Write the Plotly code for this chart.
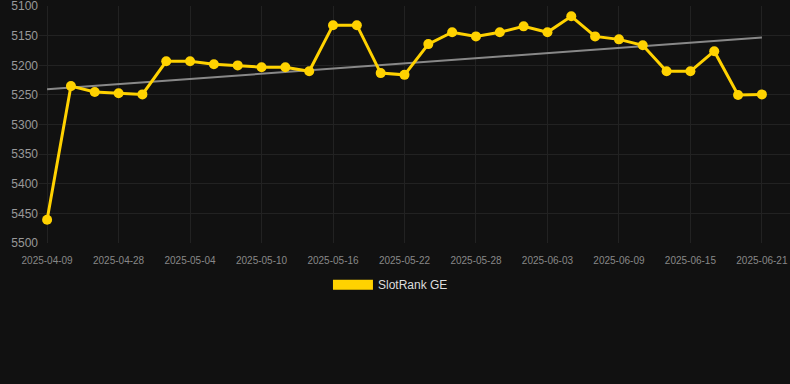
import numpy as np
import plotly.graph_objects as go

dates = ["2025-04-09", "2025-04-24", "2025-04-26", "2025-04-28", "2025-04-30", "2025-05-02",
         "2025-05-04", "2025-05-06", "2025-05-08", "2025-05-10", "2025-05-12", "2025-05-14",
         "2025-05-16", "2025-05-18", "2025-05-20", "2025-05-22", "2025-05-24", "2025-05-26",
         "2025-05-28", "2025-05-30", "2025-06-01", "2025-06-03", "2025-06-05", "2025-06-07",
         "2025-06-09", "2025-06-11", "2025-06-13", "2025-06-15", "2025-06-17", "2025-06-19",
         "2025-06-21"]
rank = [5461, 5235, 5245, 5247, 5249, 5193, 5193, 5198, 5200, 5203, 5203, 5210,
        5132, 5132, 5213, 5216, 5164, 5144, 5151, 5144, 5134, 5144, 5117, 5151,
        5156, 5166, 5210, 5210, 5176, 5250, 5249]
series_name = "SlotRank GE"
y_ticks = [5100, 5150, 5200, 5250, 5300, 5350, 5400, 5450, 5500]

idx = np.arange(len(dates))
slope, intercept = np.polyfit(idx, rank, 1)
trend = slope * idx + intercept

gold = "#FFD200"
fig = go.Figure()
fig.add_trace(go.Scatter(x=idx, y=trend, mode="lines",
                         line=dict(color="rgba(150,150,150,0.9)", width=2),
                         showlegend=False, hoverinfo="skip"))
fig.add_trace(go.Scatter(x=idx, y=rank, mode="lines+markers",
                         line=dict(color=gold, width=3),
                         marker=dict(color=gold, size=10),
                         showlegend=False, name=series_name))
fig.add_trace(go.Scatter(x=[None], y=[None], mode="lines",
                         line=dict(color=gold, width=10), name=series_name))

tick_idx = list(range(0, len(dates), 3))
fig.update_layout(
    width=790, height=384, autosize=False,
    paper_bgcolor="#111111", plot_bgcolor="#111111",
    margin=dict(l=39, r=0, t=6, b=141, autoexpand=False),
    font=dict(family="Liberation Sans, Arial, sans-serif"),
    legend=dict(orientation="h", x=0.468, xanchor="center",
                y=-0.115, yanchor="top",
                font=dict(color="#dddddd", size=12), itemwidth=40),
    xaxis=dict(range=[-0.34, 31.18], tickvals=tick_idx,
               ticktext=[dates[i] for i in tick_idx], tickangle=0,
               showgrid=True, gridcolor="#222222", zeroline=False,
               tickfont=dict(color="#888888", size=10), ticks="", showline=False,
               ticklabelstandoff=10, ticklabeloverflow="allow"),
    yaxis=dict(range=[5500.2, 5099.6], tickvals=y_ticks,
               showgrid=True, gridcolor="#222222", zeroline=False,
               tickfont=dict(color="#999999", size=12), ticks="", ticklen=2,
               ticklabeloverflow="allow"),
)
fig.write_html("out.html", config={"displayModeBar": False},
               post_script="document.body.style.margin='0';document.body.style.background='#111111';")
